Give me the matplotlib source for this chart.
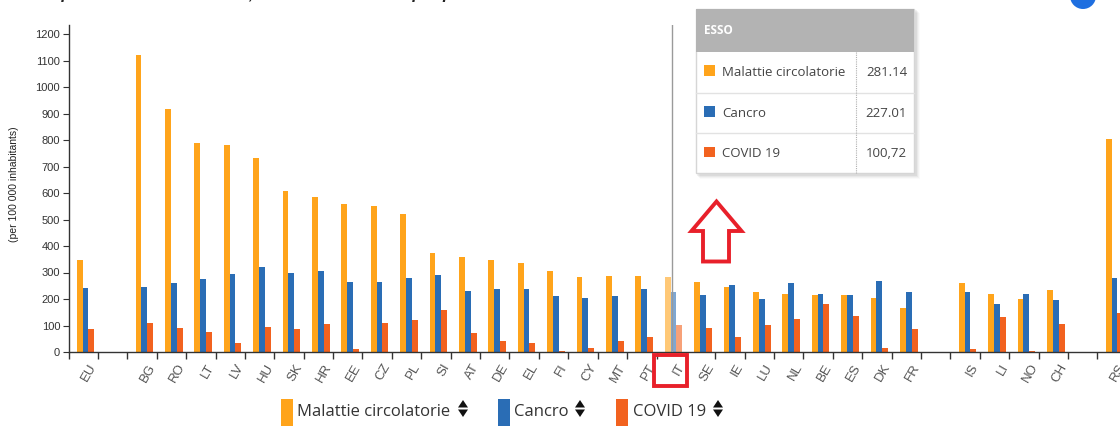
import matplotlib
matplotlib.use("Agg")
import matplotlib.pyplot as plt
import matplotlib.patches as mpatches
from matplotlib.transforms import ScaledTranslation
import numpy as np

# ---------------- data ----------------
countries = ['EU', 'BG', 'RO', 'LT', 'LV', 'HU', 'SK', 'HR', 'EE', 'CZ', 'PL', 'SI', 'AT',
             'DE', 'EL', 'FI', 'CY', 'MT', 'PT', 'IT', 'SE', 'IE', 'LU', 'NL', 'BE', 'ES',
             'DK', 'FR', 'IS', 'LI', 'NO', 'CH', 'RS']
slots = [0] + list(range(2, 29)) + list(range(30, 34)) + [35]
circ = [347, 1120, 916, 790, 780, 731, 606, 586, 557, 552, 522, 374, 359, 349, 334, 305,
        284, 286, 286, 281.14, 264, 245, 225, 220, 215, 215, 205, 165, 259, 220, 200, 235, 805]
canc = [242, 245, 259, 274, 294, 320, 300, 305, 264, 264, 279, 289, 229, 239, 239, 210,
        205, 210, 239, 227.01, 215, 254, 200, 260, 220, 215, 269, 225, 225, 180, 220, 195, 279]
covid = [87, 109, 91, 76, 35, 96, 86, 106, 13, 111, 121, 160, 71, 40, 35, 5,
         15, 42, 57, 100.72, 92, 57, 102, 126, 181, 136, 15, 86, 10, 131, 5, 107, 146]
series_names = ['Malattie circolatorie', 'Cancro', 'COVID 19']
tooltip_country = 'ESSO'
tooltip_values = ['281.14', '227.01', '100,72']
highlight = 'IT'
yticks = list(range(0, 1300, 100))

colors = ['#FFA41B', '#2A6DB5', '#F2621F']

W, H = 1120, 426
fig = plt.figure(figsize=(W / 100, H / 100), dpi=100)

def fx(x):
    return x / W

def fy(y):
    return 1 - y / H

slot_w = 29.4
left_px = 68.5
ax = fig.add_axes([fx(left_px), fy(352), 36 * slot_w / W, (352 - 25) / H])
ax.set_xlim(-0.5, 35.5)
ax.set_ylim(0, 1200 * 327 / 318)

xs = np.array(slots, dtype=float)
bw = 0.2
shift = 0.08
hi = countries.index(highlight)
for k, vals in enumerate([circ, canc, covid]):
    for i, (x, v) in enumerate(zip(xs, vals)):
        ax.bar(x + shift + (k - 1) * bw, v, width=bw, color=colors[k],
               alpha=0.6 if i == hi else 1.0, linewidth=0, zorder=2)

# hover line
ax.axvline(xs[hi] + shift - 0.05, color='#9a9a9a', lw=1, zorder=3)

for s in ['top', 'right']:
    ax.spines[s].set_visible(False)
for s in ['left', 'bottom']:
    ax.spines[s].set_color('#333333')
    ax.spines[s].set_linewidth(1)

ax.set_yticks(yticks)
ax.set_yticklabels([str(v) for v in yticks], fontsize=8, color='#333333',
                   family='Liberation Sans')
ax.tick_params(axis='y', length=4, color='#333333', pad=2)

ax.set_xticks(xs)
ax.set_xticklabels(countries, rotation=60, ha='right', va='top',
                   rotation_mode='anchor', fontsize=9.5, color='#555555',
                   family='Liberation Sans')
ax.tick_params(axis='x', which='major', length=0, pad=7)
ax.set_xticks(np.arange(-0.5, 36, 1.0), minor=True)
ax.tick_params(axis='x', which='minor', length=5, color='#333333', width=1)
off = ScaledTranslation(4 / 72, 0, fig.dpi_scale_trans)
for lab in ax.get_xticklabels():
    lab.set_transform(lab.get_transform() + off)

fig.text(fx(14), fy(184), '(per 100 000 inhabitants)', rotation=90, fontsize=7.5,
         ha='center', va='center', color='#222222', family='Liberation Sans')

# ---------------- overlay in pixel coords ----------------
ov = fig.add_axes([0, 0, 1, 1], zorder=10)
ov.set_xlim(0, W)
ov.set_ylim(H, 0)
ov.axis('off')
ov.patch.set_alpha(0)

# cropped title at top
ov.text(-6, -0.5, 'Decessi per malattie circolatorie, cancro e COVID-19 per paese - tasso di mortalità standardizzato 2021',
        fontsize=12, fontstyle='italic', fontweight='bold', color='#222222',
        va='baseline', ha='left', family='Liberation Sans')
# blue help button partially visible
ov.add_patch(mpatches.Circle((1083, -4), 13, color='#1F6FE0', lw=0))

# tooltip
bx, by, bwid, bh = 696, 9.3, 218, 163.4
for i, a in enumerate([0.05, 0.04, 0.03, 0.02]):
    ov.add_patch(mpatches.Rectangle((bx + 1 + i, by + 1 + i), bwid + 2, bh + 2,
                                    facecolor='#000000', alpha=a, lw=0))
ov.add_patch(mpatches.Rectangle((bx, by), bwid, bh, facecolor='white',
                                edgecolor='#d6d6d6', lw=1))
ov.add_patch(mpatches.Rectangle((bx, by), bwid, 42.4, facecolor='#b3b3b3', lw=0))
ov.text(704, 31, tooltip_country, color='white', fontsize=8.5, fontweight='bold',
        va='center', ha='left', family='Open Sans')
row_tops = [51.7, 92.7, 133.3]
for yy in row_tops[1:]:
    ov.plot([bx, bx + bwid], [yy, yy], color='#e2e2e2', lw=1)
ov.plot([856, 856], [51.7, by + bh], color='#b0b0b0', lw=0.8, ls=(0, (1, 1)))
for k in range(3):
    yc = row_tops[k] + 20.5
    ov.add_patch(mpatches.Rectangle((704, yc - 7), 10.5, 10.5, facecolor=colors[k], lw=0))
    ov.text(722, yc, series_names[k], fontsize=9.5, color='#444444', va='center',
            ha='left', family='Open Sans')
    ov.text(907, yc, tooltip_values[k], fontsize=9.5, color='#444444', va='center',
            ha='right', family='Open Sans')

# red arrow (annotation)
arrow = [(716.5, 201.5), (741.5, 231), (729, 231), (729, 261.5), (703, 261.5),
         (703, 231), (691.5, 231)]
ov.add_patch(mpatches.Polygon(arrow, closed=True, fill=False, edgecolor='#E8202A',
                              lw=2.8, joinstyle='miter'))
# red box round highlighted label
ov.add_patch(mpatches.Rectangle((654, 354.5), 33, 31, fill=False, edgecolor='#E8202A',
                                lw=2.8))

# legend
leg = [(281, 297, 458), (498, 514, 575), (616, 633, 713)]
for k, (rx, tx, arx) in enumerate(leg):
    ov.add_patch(mpatches.Rectangle((rx, 399), 11.5, 28, facecolor=colors[k], lw=0))
    ov.text(tx, 412, series_names[k], fontsize=12, color='#333333', va='center',
            ha='left', family='Open Sans')
    ov.add_patch(mpatches.Polygon([(arx, 407.5), (arx + 10, 407.5), (arx + 5, 400)],
                                  closed=True, facecolor='#111111', lw=0))
    ov.add_patch(mpatches.Polygon([(arx, 409.5), (arx + 10, 409.5), (arx + 5, 417)],
                                  closed=True, facecolor='#111111', lw=0))

fig.savefig('out.png', dpi=100)
